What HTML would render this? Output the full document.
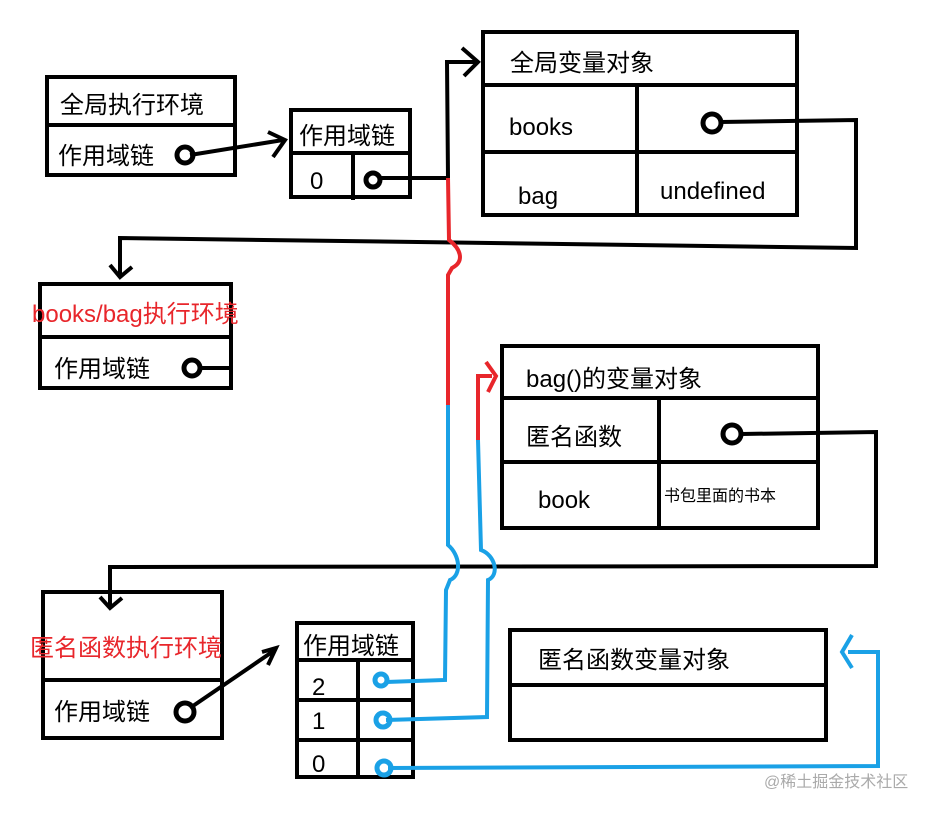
<!DOCTYPE html><html><head><meta charset="utf-8"><style>
body{margin:0;background:#fff}
svg text{font-family:"Liberation Sans","Noto Sans CJK SC",sans-serif}
</style></head><body>
<svg width="944" height="813" viewBox="0 0 944 813" xmlns="http://www.w3.org/2000/svg">
<g fill="none" stroke="#000" stroke-width="4">
<rect x="47" y="77" width="188" height="98"/><line x1="45" y1="125" x2="237" y2="125"/>
<rect x="291" y="110" width="119" height="87"/><line x1="291" y1="153" x2="410" y2="153"/><line x1="353" y1="155" x2="353" y2="200"/>
<rect x="483" y="32" width="314" height="183"/><line x1="483" y1="85" x2="797" y2="85"/><line x1="483" y1="152" x2="797" y2="152"/><line x1="637" y1="85" x2="637" y2="215"/>
<rect x="40" y="284" width="191" height="104"/><line x1="40" y1="337" x2="233" y2="337"/>
<rect x="502" y="346" width="316" height="182"/><line x1="502" y1="398" x2="818" y2="398"/><line x1="502" y1="462" x2="818" y2="462"/><line x1="659" y1="398" x2="659" y2="528"/>
<rect x="43" y="592" width="179" height="146"/><line x1="43" y1="680" x2="222" y2="680"/>
<rect x="297" y="623" width="116" height="154"/><line x1="297" y1="660" x2="413" y2="660"/><line x1="297" y1="700" x2="413" y2="700"/><line x1="297" y1="740" x2="413" y2="740"/><line x1="358" y1="660" x2="358" y2="777"/>
<rect x="510" y="630" width="316" height="110"/><line x1="510" y1="685" x2="826" y2="685"/>
</g>
<g fill="none" stroke="#000" stroke-width="5">
<circle cx="185" cy="155" r="8"/><circle cx="373" cy="180" r="7"/><circle cx="712" cy="123" r="9"/><circle cx="192" cy="368" r="8"/><circle cx="732" cy="434" r="9"/><circle cx="185" cy="712" r="9"/>
</g>
<g fill="none" stroke="#000" stroke-width="4">
<path d="M190 155 L283 140 M268 132 L285 140 L273 157"/>
<path d="M380 178 L448 178 L447 62 L476 62 M462 48 L478 62 L464 76"/>
<path d="M720 122 L856 120 L856 248 L120 238 L120 276 M110 265 L120 277 L132 267"/>
<path d="M200 368 L231 368"/>
<path d="M742 434 L876 432 L876 566 L110 567 L110 607 M100 597 L110 608 L122 598"/>
<path d="M190 708 L275 650 M268 665 L276 648 L262 652"/>
</g>
<g fill="none" stroke="#e8262b" stroke-width="4">
<path d="M448 178 L449 240 C462 250 464 262 452 268 L448 275 L448 405"/>
<path d="M478 440 L478 376 L492 376 M486 362 L496 376 L488 392"/>
</g>
<g fill="none" stroke="#1aa1e6" stroke-width="4">
<path d="M448 405 L448 545 C460 555 462 575 450 580 L446 590 L445 680 L386 682"/>
<path d="M478 440 L481 550 C495 555 500 575 488 580 L487 717 L386 720"/>
<path d="M388 768 L878 766 L878 652 L848 652 M852 635 L842 652 L852 668"/>
</g>
<g fill="none" stroke="#1aa1e6" stroke-width="5">
<circle cx="381" cy="680" r="6"/><circle cx="383" cy="720" r="7"/><circle cx="384" cy="768" r="7"/>
</g>
<g font-size="24" fill="#000">
<text x="60" y="113">全局执行环境</text>
<text x="58" y="164">作用域链</text>
<text x="299" y="144">作用域链</text>
<text x="310" y="189">0</text>
<text x="510" y="71">全局变量对象</text>
<text x="509" y="135">books</text>
<text x="518" y="204">bag</text>
<text x="660" y="199">undefined</text>
<text x="54" y="377">作用域链</text>
<text x="526" y="387">bag()的变量对象</text>
<text x="526" y="445">匿名函数</text>
<text x="538" y="508">book</text>
<text x="664" y="501" font-size="16">书包里面的书本</text>
<text x="54" y="720">作用域链</text>
<text x="303" y="654">作用域链</text>
<text x="312" y="695">2</text><text x="312" y="729">1</text><text x="312" y="772">0</text>
<text x="538" y="668">匿名函数变量对象</text>
</g>
<g font-size="24" fill="#e8262b">
<text x="32" y="322">books/bag执行环境</text>
<text x="30" y="656">匿名函数执行环境</text>
</g>
<text x="764" y="787" font-size="16" fill="#aaa">@稀土掘金技术社区</text>
</svg>
</body></html>
